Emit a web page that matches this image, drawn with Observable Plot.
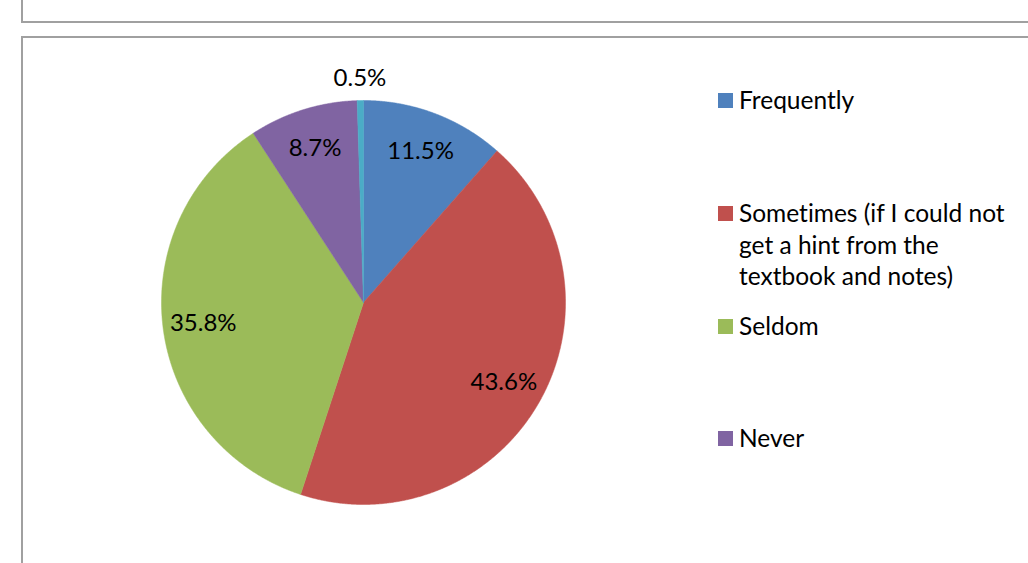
<!DOCTYPE html>
<html>
<head>
<meta charset="utf-8">
<script src="https://cdn.jsdelivr.net/npm/d3@7"></script>
<script src="https://cdn.jsdelivr.net/npm/@observablehq/plot@0.6"></script>
<style>
  html, body { margin: 0; padding: 0; background: #fff; }
  #wrap { position: relative; width: 1028px; height: 563px; overflow: hidden; font-family: Lato, "Open Sans", sans-serif; font-variant-ligatures: none; }
  .frame { position: absolute; border: 2px solid #a0a0a0; box-sizing: border-box; }
  #chart { position: absolute; left: 0; top: 0; }
  #chart text { font-variant-ligatures: none; }
  .legend { position: absolute; left: 718px; font-size: 24.5px; color: #000; line-height: 31.5px; }
  .legend .item { position: absolute; left: 0; width: 310px; }
  .legend .sw { position: absolute; left: 0; width: 15px; height: 15px; }
  .legend .lab { position: absolute; left: 21px; white-space: nowrap; }
</style>
</head>
<body>
<div id="wrap">
  <div class="frame" style="left:21px; top:-10px; width:1100px; height:33px;"></div>
  <div class="frame" style="left:21px; top:36px; width:1100px; height:600px;"></div>
  <div id="chart"></div>
  <div class="legend" id="legend"></div>
</div>
<script>
// ---- data ----
const categories = ["Frequently", "Sometimes (if I could not get a hint from the textbook and notes)", "Seldom", "Never", "Other"];
const values = [11.5, 43.6, 35.8, 8.7, 0.5];
const labels = ["11.5%", "43.6%", "35.8%", "8.7%", "0.5%"];
const colors = ["#4F81BD", "#C0504D", "#9BBB59", "#8064A2", "#4BACC6"];
const legendCategories = ["Frequently", "Sometimes (if I could not get a hint from the textbook and notes)", "Seldom", "Never"];
const legendLines = [["Frequently"], ["Sometimes (if I could not", "get a hint from the", "textbook and notes)"], ["Seldom"], ["Never"]];

// ---- layout ----
const W = 1028, H = 563;
const cx = 363, cy = 302, R = 202;

const arcs = d3.pie().sort(null).value(d => d)(values);

const slicePts = [];
const labelPts = [];
arcs.forEach((a, i) => {
  const cat = categories[i];
  slicePts.push({cat, x: 0, y: 0});
  const n = Math.max(4, Math.ceil((a.endAngle - a.startAngle) / (Math.PI / 720)));
  for (let k = 0; k <= n; k++) {
    const t = a.startAngle + (a.endAngle - a.startAngle) * k / n;
    slicePts.push({cat, x: Math.sin(t), y: Math.cos(t)});
  }
  slicePts.push({cat, x: 0, y: 0});
  const mid = (a.startAngle + a.endAngle) / 2;
  const share = values[i] / d3.sum(values);
  const rr = share < 0.02 ? 1.11 : 0.8;
  labelPts.push({x: rr * Math.sin(mid), y: rr * Math.cos(mid), label: labels[i]});
});

const chart = Plot.plot({
  width: W, height: H,
  margin: 0,
  style: {background: "transparent", overflow: "visible"},
  x: {domain: [-1, 1], range: [cx - R, cx + R], axis: null},
  y: {domain: [-1, 1], range: [cy + R, cy - R], axis: null},
  color: {type: "ordinal", domain: categories, range: colors},
  marks: [
    Plot.line(slicePts, {x: "x", y: "y", z: "cat", fill: "cat", stroke: "cat", strokeWidth: 0.5, curve: "linear"}),
    Plot.text(labelPts, {x: "x", y: "y", text: "label", fill: "#000", fontSize: 24, fontFamily: "Lato, 'Open Sans', sans-serif"})
  ]
});
document.getElementById("chart").appendChild(chart);

// ---- legend ----
const legendTops = [93, 206, 319, 431];
const leg = document.getElementById("legend");
legendCategories.forEach((c, i) => {
  const item = document.createElement("div");
  item.className = "item";
  item.style.top = legendTops[i] + "px";
  const sw = document.createElement("div");
  sw.className = "sw";
  sw.style.background = colors[categories.indexOf(c)];
  item.appendChild(sw);
  const lab = document.createElement("div");
  lab.className = "lab";
  lab.style.top = "-9px";
  lab.innerHTML = legendLines[i].join("<br>");
  item.appendChild(lab);
  leg.appendChild(item);
});
</script>
</body>
</html>
